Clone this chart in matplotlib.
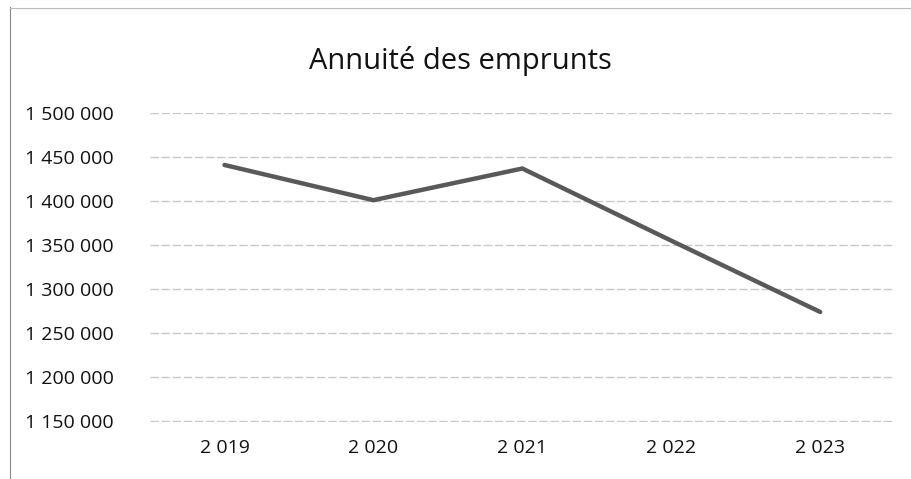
import matplotlib.pyplot as plt

# data
years = ["2 019", "2 020", "2 021", "2 022", "2 023"]
annuite = [1441000, 1401000, 1437000, 1355000, 1274000]
yticks = [1150000, 1200000, 1250000, 1300000, 1350000, 1400000, 1450000, 1500000]

plt.rcParams['font.family'] = ['Open Sans', 'DejaVu Sans']

fig = plt.figure(figsize=(9.12, 4.79), dpi=100)
ax = fig.add_axes([0.1645, 0.119, 0.8165, 0.645])

x = list(range(len(years)))
ax.plot(x, annuite, color="#595959", linewidth=3.2, solid_capstyle="round")

ax.set_xlim(-0.5, len(years) - 0.5)
ax.set_ylim(1149000, 1500000)
ax.set_yticks(yticks)
ax.set_yticklabels(["{:,}".format(v).replace(",", " ") for v in yticks])
ax.set_xticks(x)
ax.set_xticklabels(years)
ax.tick_params(length=0, labelsize=14, colors="#111111")
ax.tick_params(axis="y", pad=26)
ax.tick_params(axis="x", pad=12)
ax.grid(axis="y", color="#c8c8c8", linewidth=1, linestyle=(0, (6, 2)))
for s in ax.spines.values():
    s.set_visible(False)
ax.set_axisbelow(True)

fig.text(0.505, 0.873, "Annuité des emprunts", ha="center", va="center",
         fontsize=21, color="#111111")

# scanned frame edges
fig.add_artist(plt.Line2D([0.011, 0.011], [0.0, 0.985], color="#888888", linewidth=0.8))
fig.add_artist(plt.Line2D([0.011, 1.0], [0.983, 0.983], color="#bbbbbb", linewidth=0.8))

fig.savefig("out.png", dpi=100)
